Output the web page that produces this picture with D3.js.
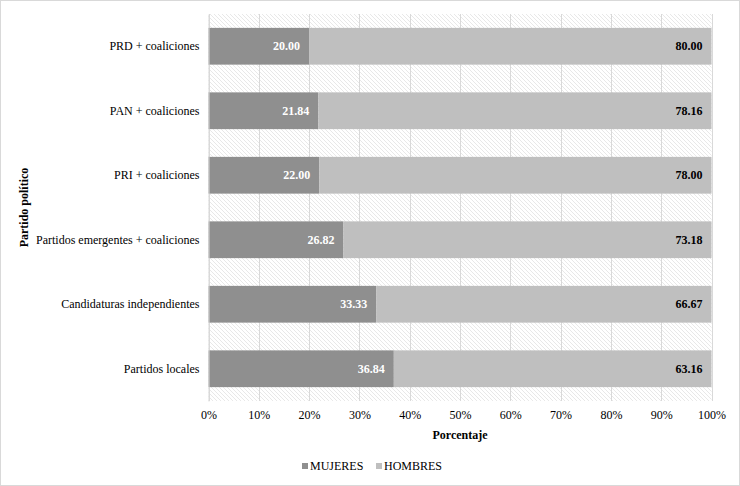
<!DOCTYPE html>
<html>
<head>
<meta charset="utf-8">
<script src="https://cdn.jsdelivr.net/npm/d3@7/dist/d3.min.js"></script>
<style>
html,body{margin:0;padding:0;background:#fff;}
svg text{font-family:"Liberation Serif","Times New Roman",serif !important;}
</style>
</head>
<body>
<svg id="chart" width="740" height="486"></svg>
<script>
const categories = ["PRD + coaliciones","PAN + coaliciones","PRI + coaliciones","Partidos emergentes + coaliciones","Candidaturas independientes","Partidos locales"];
const mujeres = [20.00, 21.84, 22.00, 26.82, 33.33, 36.84];
const hombres = [80.00, 78.16, 78.00, 73.18, 66.67, 63.16];
const seriesNames = ["MUJERES","HOMBRES"];
const tickValues = [0,10,20,30,40,50,60,70,80,90,100];

const W = 740, H = 486;
const m = {left:208.5, right:711.5, top:14, bottom:401};
const svg = d3.select("#chart");
const colors = {MUJERES:"#8f8f8f", HOMBRES:"#bfbfbf"};

svg.append("rect").attr("x",0.5).attr("y",0.5).attr("width",W-1).attr("height",H-1)
  .attr("fill","#fff").attr("stroke","#d9d9d9");

const defs = svg.append("defs");
const pat = defs.append("pattern").attr("id","hatch").attr("patternUnits","userSpaceOnUse")
  .attr("width",4).attr("height",4);
pat.append("rect").attr("width",4).attr("height",4).attr("fill","#ffffff");
pat.append("path").attr("d","M-1,-1 L5,5 M-1,3 L1,5 M3,-1 L5,1").attr("stroke","#d4d4d4").attr("stroke-width",0.55);

const x = d3.scaleLinear().domain([0,100]).range([m.left,m.right]);
const y = d3.scaleBand().domain(categories).range([m.top,m.bottom]).paddingInner(0.43).paddingOuter(0.215);

svg.append("rect").attr("x",m.left).attr("y",m.top).attr("width",m.right-m.left).attr("height",m.bottom-m.top)
  .attr("fill","url(#hatch)");

// grid
svg.append("g").selectAll("line").data(tickValues).join("line")
  .attr("x1",d=>Math.round(x(d))+0.5).attr("x2",d=>Math.round(x(d))+0.5)
  .attr("y1",m.top).attr("y2",m.bottom).attr("stroke","#d9d9d9").attr("stroke-width",1);

const rows = categories.map((c,i)=>({c, m:mujeres[i], h:hombres[i]}));
const g = svg.append("g");
g.selectAll(".bm").data(rows).join("rect")
  .attr("x",x(0)).attr("y",d=>y(d.c)).attr("width",d=>x(d.m)-x(0)).attr("height",y.bandwidth())
  .attr("fill",colors.MUJERES);
g.selectAll(".bh").data(rows).join("rect")
  .attr("x",d=>x(d.m)).attr("y",d=>y(d.c)).attr("width",d=>x(d.m+d.h)-x(d.m)).attr("height",y.bandwidth())
  .attr("fill",colors.HOMBRES);

g.selectAll(".lm").data(rows).join("text")
  .attr("x",d=>x(d.m)-9).attr("y",d=>y(d.c)+y.bandwidth()/2).attr("dy","0.35em")
  .attr("text-anchor","end").attr("font-size",12).attr("font-weight","bold").attr("fill","#fff")
  .text(d=>d.m.toFixed(2));
g.selectAll(".lh").data(rows).join("text")
  .attr("x",d=>x(d.m+d.h)-9).attr("y",d=>y(d.c)+y.bandwidth()/2).attr("dy","0.35em")
  .attr("text-anchor","end").attr("font-size",12).attr("font-weight","bold").attr("fill","#000")
  .text(d=>d.h.toFixed(2));

// y axis
const yAxis = d3.axisLeft(y).tickSize(0).tickPadding(9);
const ya = svg.append("g").attr("transform",`translate(${m.left},0)`).call(yAxis);
ya.select(".domain").attr("stroke","#d9d9d9");
ya.selectAll("text").attr("font-size",12).attr("fill","#000");

// x axis
const xAxis = d3.axisBottom(x).tickValues(tickValues).tickFormat(d=>d+"%").tickSize(0).tickPadding(9);
const xa = svg.append("g").attr("transform",`translate(0,${m.bottom})`).call(xAxis);
xa.select(".domain").remove();
xa.selectAll("text").attr("font-size",12).attr("fill","#000");

svg.append("text").attr("x",(m.left+m.right)/2).attr("y",439).attr("text-anchor","middle")
  .attr("font-size",12).attr("font-weight","bold").text("Porcentaje");
svg.append("text").attr("transform",`translate(28,${(m.top+m.bottom)/2}) rotate(-90)`).attr("text-anchor","middle")
  .attr("font-size",12).attr("font-weight","bold").text("Partido político");

// legend
const leg = svg.append("g");
const legX = [302, 376];
seriesNames.forEach((s,i)=>{
  leg.append("rect").attr("x",legX[i]).attr("y",463).attr("width",6).attr("height",6).attr("fill",colors[s]);
  leg.append("text").attr("x",legX[i]+8).attr("y",470).attr("font-size",12).attr("fill","#000").text(s);
});
</script>
</body>
</html>
